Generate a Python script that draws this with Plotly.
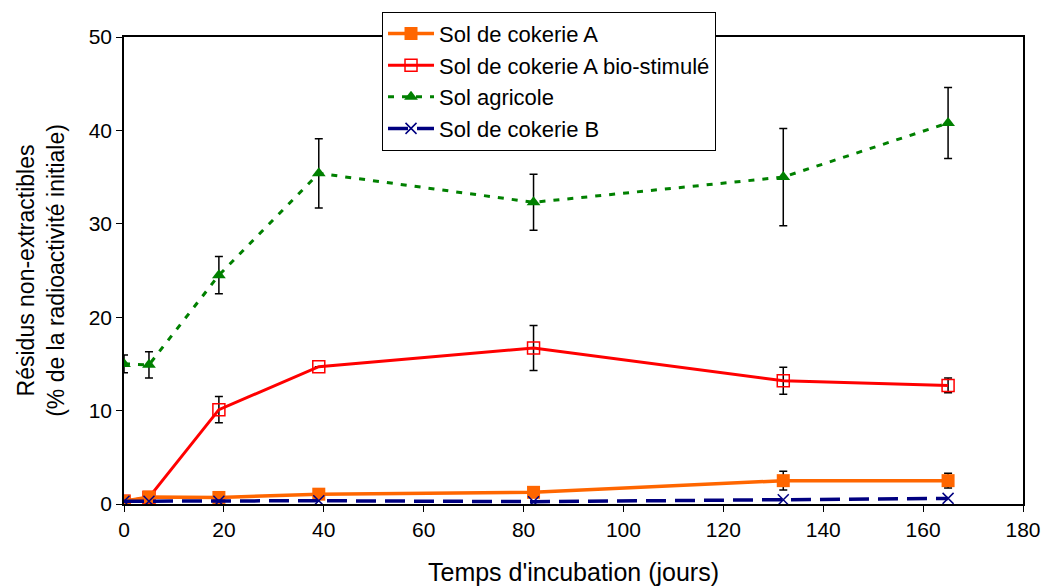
import plotly.graph_objects as go

days = [0, 5, 19, 39, 82, 132, 165]

coke_a = [0.3, 0.75, 0.7, 1.05, 1.25, 2.5, 2.5]
coke_a_err = [0.0, 0.0, 0.0, 0.0, 0.0, 1.0, 0.8]

coke_a_bio = [0.3, 0.7, 10.1, 14.7, 16.7, 13.2, 12.7]
coke_a_bio_err = [0.0, 0.0, 1.4, 0.0, 2.4, 1.45, 0.8]

agricole = [15.0, 14.9, 24.5, 35.4, 32.3, 35.0, 40.8]
agricole_err = [0.95, 1.4, 2.0, 3.7, 3.0, 5.2, 3.8]

coke_b = [0.3, 0.3, 0.3, 0.35, 0.25, 0.45, 0.6]

x_ticks = [0, 20, 40, 60, 80, 100, 120, 140, 160, 180]
y_ticks = [0, 10, 20, 30, 40, 50]

font_family = "Liberation Sans, Arial, sans-serif"

def ebar(vals):
    return dict(type="data", array=vals, visible=True, color="black",
                thickness=1.5, width=4)

fig = go.Figure()

fig.add_trace(go.Scatter(
    x=days, y=agricole, name="Sol agricole", mode="lines+markers",
    line=dict(color="#008000", width=3, dash="6px,8px"),
    marker=dict(symbol="triangle-up", size=12, color="#008000"),
    error_y=ebar(agricole_err), legendrank=3))

fig.add_trace(go.Scatter(
    x=days, y=coke_a_bio, name="Sol de cokerie A bio-stimulé", mode="lines+markers",
    line=dict(color="#FF0000", width=3),
    marker=dict(symbol="square-open", size=12, color="#FF0000", line=dict(width=1.5)),
    error_y=ebar(coke_a_bio_err), legendrank=2))

fig.add_trace(go.Scatter(
    x=days, y=coke_a, name="Sol de cokerie A", mode="lines+markers",
    line=dict(color="#FF6600", width=3.5),
    marker=dict(symbol="square", size=13, color="#FF6600"),
    error_y=ebar(coke_a_err), legendrank=1))

fig.add_trace(go.Scatter(
    x=days, y=coke_b, name="Sol de cokerie B", mode="lines+markers",
    line=dict(color="#000080", width=3.5, dash="20px,9px"),
    marker=dict(symbol="x-thin", size=11, color="#000080",
                line=dict(width=1.5, color="#000080")),
    legendrank=4))

fig.update_layout(
    width=1044, height=586,
    margin=dict(l=124, r=21, t=37, b=82, autoexpand=False),
    paper_bgcolor="white", plot_bgcolor="white",
    font=dict(family=font_family, size=21, color="black"),
    showlegend=True,
    legend=dict(x=0.287, y=1.054, xanchor="left", yanchor="top",
                bgcolor="white", bordercolor="black", borderwidth=1,
                font=dict(size=22), tracegroupgap=0, traceorder="normal",
                itemwidth=46),
    xaxis=dict(range=[0, 180], tickvals=x_ticks, showgrid=False, zeroline=False,
               showline=True, linecolor="black", linewidth=1.5, mirror=True,
               ticks="outside", ticklen=6, tickcolor="black", automargin=False,
               title=dict(text="Temps d'incubation (jours)", font=dict(size=25), standoff=28)),
    yaxis=dict(range=[0, 50], tickvals=y_ticks, showgrid=False, zeroline=False,
               showline=True, linecolor="black", linewidth=1.5, mirror=True,
               ticks="outside", ticklen=6, tickcolor="black", automargin=False,
               title=dict(text="Résidus non-extractibles<br>(% de la radioactivité initiale)",
                          font=dict(size=23), standoff=18)),
)

fig.write_html(
    "out.html",
    config={"displayModeBar": False},
    post_script="document.body.style.margin='0';document.body.style.overflow='hidden';",
)
